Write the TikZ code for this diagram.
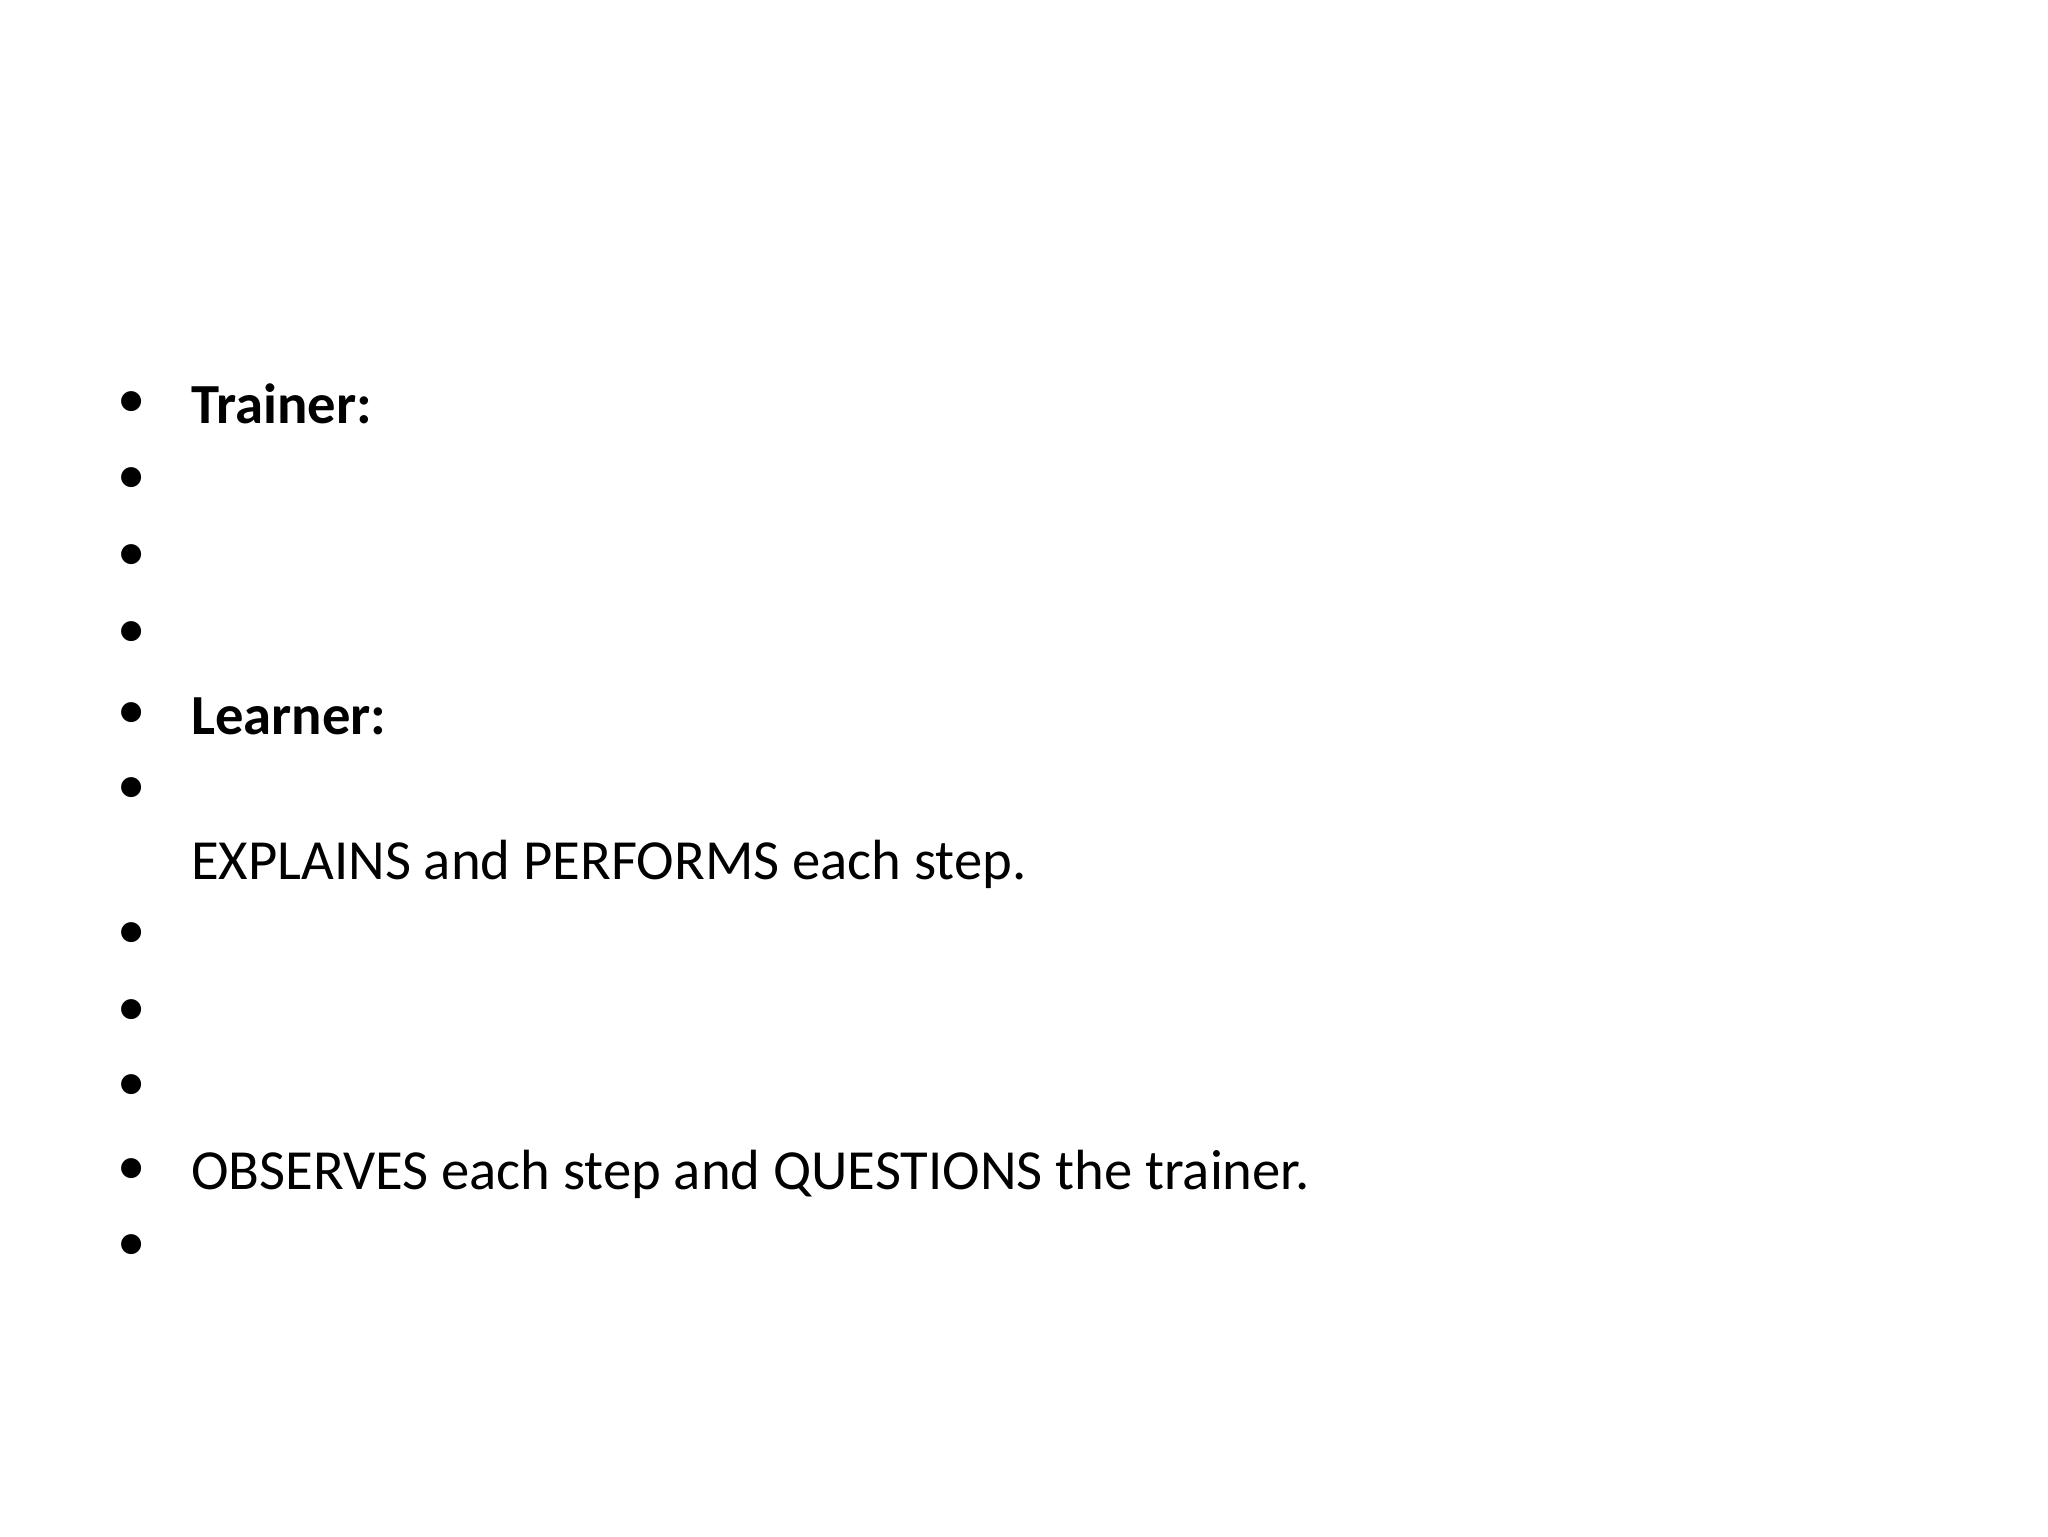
\documentclass[tikz,border=0pt]{standalone}
\usepackage{fontspec}
\setmainfont{Carlito}
\begin{document}
\begin{tikzpicture}[x=0.162mm,y=-0.162mm,
  txt/.style={anchor=base west,inner sep=0pt,font=\fontsize{20pt}{24pt}\selectfont},
  bul/.style={inner sep=0pt,font=\fontsize{20pt}{24pt}\selectfont}]
\useasboundingbox (0,0) rectangle (1568,1176);
\foreach \y [count=\i] in {310,368,427,486,548,605,716,775,833,897,955}
  \node[bul] (b\i) at (101,\y) {•};
\node[txt] (t1) at (146,324) {\textbf{Trainer:}};
\node[txt] (t2) at (146,562) {\textbf{Learner:}};
\node[txt] (t3) at (146,673) {EXPLAINS and PERFORMS each step.};
\node[txt] (t4) at (146,911) {OBSERVES each step and QUESTIONS the trainer.};
\end{tikzpicture}
\end{document}
